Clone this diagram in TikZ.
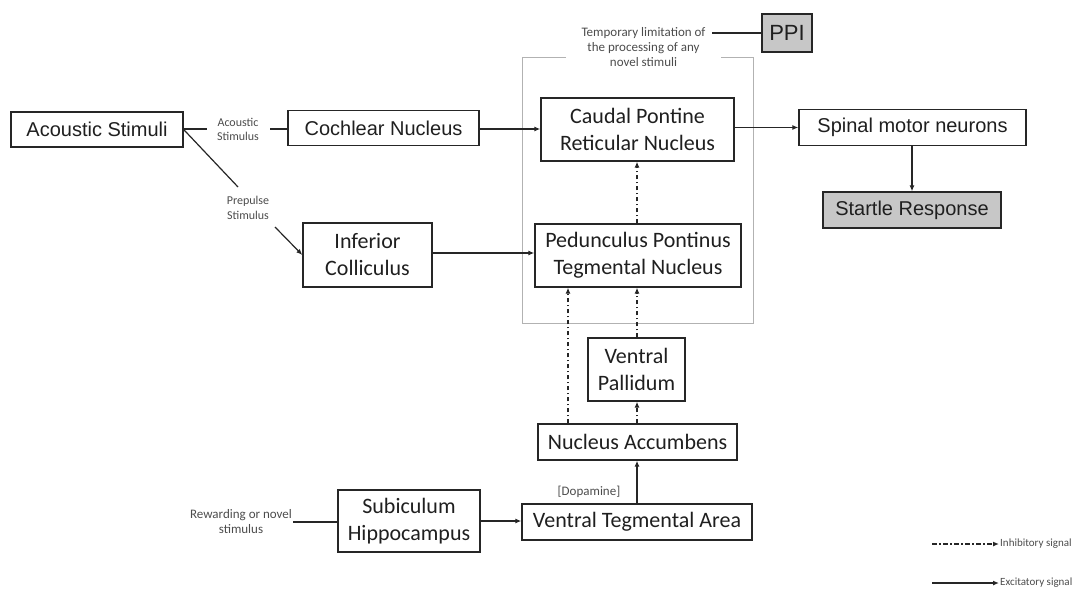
\documentclass[tikz,border=0pt]{standalone}
\usepackage{fontspec}
\setmainfont{Carlito}
\newfontfamily\gothic{Liberation Sans}
\usetikzlibrary{arrows.meta}
\begin{document}
\begin{tikzpicture}[x=1pt,y=-1pt,
  box/.style={draw=black!85,line width=1.3pt,inner sep=0pt,align=center,text=black!88},
  cal/.style={box,font=\fontsize{22}{27}\selectfont},
  goth/.style={box,font=\gothic\fontsize{20}{24}\selectfont},
  small/.style={inner sep=1pt,align=center,text=black!70,font=\fontsize{13}{15}\selectfont},
  leg/.style={inner sep=1pt,anchor=west,text=black!70,font=\fontsize{11}{13}\selectfont},
  exc/.style={line width=1.2pt,draw=black!85,-{Latex[length=6pt,width=5pt]}},
  plain/.style={line width=1.2pt,draw=black!85},
  inh/.style={line width=1.2pt,draw=black!85,dash pattern=on 4.5pt off 2.5pt on 1.5pt off 2.5pt,-{Latex[length=6pt,width=5pt]}}]
\useasboundingbox (0,0) rectangle (1086,596);
% frame
\draw[black!30,line width=0.8pt] (566,57) -- (522,57) -- (522,323) -- (753,323) -- (753,57) -- (721,57);
% boxes
\node[goth,minimum width=172,minimum height=35] (acs) at (97,129.5) {Acoustic Stimuli};
\node[goth,minimum width=191,minimum height=35] (coch) at (383.5,128) {Cochlear Nucleus};
\node[cal,minimum width=193,minimum height=63] (cprn) at (637.5,129.5) {Caudal Pontine\\Reticular Nucleus};
\node[goth,minimum width=227,minimum height=36] (spinal) at (912.5,127.5) {Spinal motor neurons};
\node[goth,fill=black!22,minimum width=178,minimum height=36] (startle) at (912,210) {Startle Response};
\node[goth,fill=black!22,minimum width=50,minimum height=38,font=\gothic\fontsize{22}{24}\selectfont] (ppi) at (787,33) {PPI};
\node[cal,minimum width=129,minimum height=64] (ic) at (367.5,255) {Inferior\\Colliculus};
\node[cal,minimum width=206,minimum height=63] (pptn) at (638,255.5) {Pedunculus Pontinus\\Tegmental Nucleus};
\node[cal,minimum width=97,minimum height=63] (vp) at (636.5,369.5) {Ventral\\Pallidum};
\node[cal,minimum width=199,minimum height=36] (nacc) at (637.5,442) {Nucleus Accumbens};
\node[cal,minimum width=142,minimum height=62] (sub) at (409,521) {Subiculum\\Hippocampus};
\node[cal,minimum width=230,minimum height=36] (vta) at (637,522) {Ventral Tegmental Area};
% small labels
\node[small,font=\fontsize{12}{14}\selectfont] (lac) at (238,129) {Acoustic\\Stimulus};
\node[small,font=\fontsize{12}{15}\selectfont] (lpre) at (248,208) {Prepulse\\Stimulus};
\node[small] (ltmp) at (643.5,47) {Temporary limitation of\\the processing of any\\novel stimuli};
\node[small] (lrew) at (241,522) {Rewarding or novel\\stimulus};
\node[small] (ldop) at (589,492) {[Dopamine]};
% connectors
\coordinate (p1) at (238,187);
\coordinate (p2) at (275,227);
\coordinate (t1) at (712,33);
\coordinate (a1) at (207,129);
\coordinate (a2) at (270,129);
\draw[plain] (acs.east |- a1) -- (a1);
\draw[plain] (a2) -- (coch.west |- a2);
\draw[plain] (acs.east) -- (p1);
\draw[exc] (p2) -- (ic.west);
\draw[exc] (coch.east |- 0,129) -- (cprn.west |- 0,129);
\draw[exc] (cprn.east |- spinal.west) -- (spinal.west);
\draw[exc] (spinal.south -| startle.north) -- (startle.north);
\draw[plain] (t1) -- (ppi.west);
\draw[exc] (ic.east |- 0,253) -- (pptn.west |- 0,253);
\draw[inh] (pptn.north -| 637,0) -- (cprn.south -| 637,0);
\draw[inh] (nacc.north -| 568,0) -- (pptn.south -| 568,0);
\draw[inh] (vp.north -| 637,0) -- (pptn.south -| 637,0);
\draw[inh] (nacc.north -| 637,0) -- (vp.south -| 637,0);
\draw[exc] (vta.north -| 637,0) -- (nacc.south -| 637,0);
\draw[plain] (lrew.east |- 0,522) -- (sub.west |- 0,522);
\draw[exc] (sub.east) -- (vta.west |- sub.east);
% legend
\node[leg] (linh) at (999,544) {Inhibitory signal};
\node[leg] (lexc) at (999,583) {Excitatory signal};
\coordinate (li) at (932,544);
\coordinate (le) at (932,583);
\draw[inh] (li) -- (linh.west);
\draw[exc] (le) -- (lexc.west);
\end{tikzpicture}
\end{document}
